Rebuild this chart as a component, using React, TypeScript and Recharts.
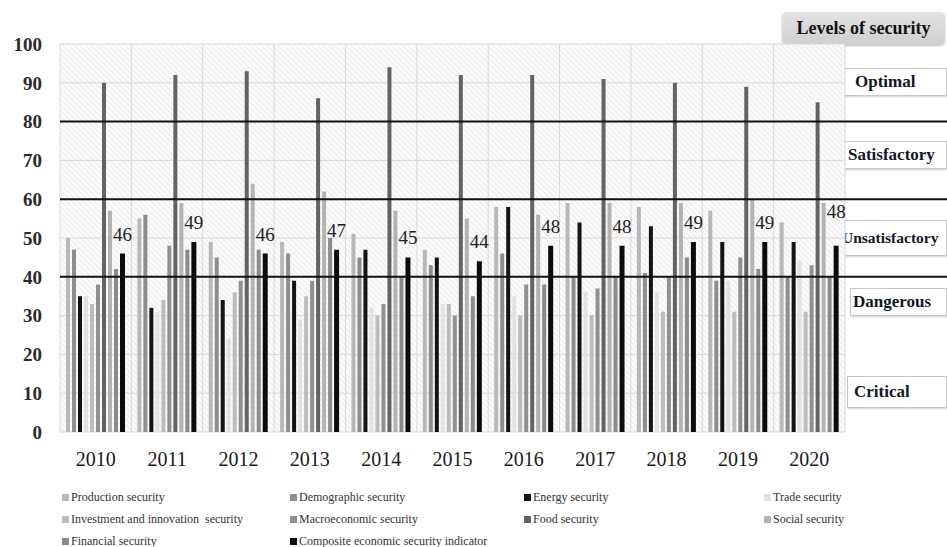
import React from "react";
import {
  Bar,
  BarChart,
  CartesianGrid,
  LabelList,
  ReferenceLine,
  XAxis,
  YAxis,
} from "recharts";

const years = ["2010", "2011", "2012", "2013", "2014", "2015", "2016", "2017", "2018", "2019", "2020"];

const production = [50, 55, 49, 49, 51, 47, 58, 59, 58, 57, 54];
const demographic = [47, 56, 45, 46, 45, 43, 46, 40, 41, 39, 40];
const energy = [35, 32, 34, 39, 47, 45, 58, 54, 53, 49, 49];
const trade = [35, 31, 24, 29, 32, 33, 35, 36, 36, 39, 44];
const investment = [33, 34, 36, 35, 30, 33, 30, 30, 31, 31, 31];
const macro = [38, 48, 39, 39, 33, 30, 38, 37, 40, 45, 43];
const food = [90, 92, 93, 86, 94, 92, 92, 91, 90, 89, 85];
const social = [57, 59, 64, 62, 57, 55, 56, 59, 59, 60, 59];
const financial = [42, 47, 47, 50, 40, 35, 38, 40, 45, 42, 40];
const composite = [46, 49, 46, 47, 45, 44, 48, 48, 49, 49, 48];

const yTicks = [0, 10, 20, 30, 40, 50, 60, 70, 80, 90, 100];
const thresholds = [80, 60, 40];

const levels = [
  { name: "Optimal", left: 838, top: 68, height: 28, pad: 16, size: 17 },
  { name: "Satisfactory", left: 843, top: 141, height: 28, pad: 4, size: 17 },
  { name: "Unsatisfactory", left: 839, top: 220, height: 36, pad: 2, size: 15.5 },
  { name: "Dangerous", left: 850, top: 288, height: 28, pad: 2, size: 17 },
  { name: "Critical", left: 847, top: 376, height: 32, pad: 6, size: 17 },
];

const series = [
  { key: "production", name: "Production security", color: "#b8b8b8", values: production },
  { key: "demographic", name: "Demographic security", color: "#8e8e8e", values: demographic },
  { key: "energy", name: "Energy security", color: "#141414", values: energy },
  { key: "trade", name: "Trade security", color: "#e2e2e2", values: trade },
  { key: "investment", name: "Investment and innovation  security", color: "#bcbcbc", values: investment },
  { key: "macro", name: "Macroeconomic security", color: "#909090", values: macro },
  { key: "food", name: "Food security", color: "#636363", values: food },
  { key: "social", name: "Social security", color: "#b3b3b3", values: social },
  { key: "financial", name: "Financial security", color: "#8a8a8a", values: financial },
  { key: "composite", name: "Composite economic security indicator", color: "#0c0c0c", values: composite },
];

const data = years.map((year, i) => {
  const row: Record<string, string | number> = { year };
  series.forEach((s) => {
    row[s.key] = s.values[i];
  });
  return row;
});

const legendCols = [62, 290, 524, 764];
const legendRows = [497, 519, 541];

const serif = "'Liberation Serif', 'DejaVu Serif', serif";

function ExtendedLine(props: any) {
  const { x1, y1, y2 } = props;
  if (x1 == null || y1 == null) return null;
  return <line x1={x1} y1={y1} x2={947} y2={y2} stroke="#111" strokeWidth={2} />;
}

// last label sits higher in the original so it clears the "Unsatisfactory" box
function CompositeLabel(props: any) {
  const { x, y, width, value, index } = props;
  const lift = index === years.length - 1 ? 28 : 13;
  return (
    <text
      x={x + width / 2}
      y={y - lift}
      textAnchor="middle"
      fontSize={19}
      fill="#222"
      fontFamily={serif}
    >
      {value}
    </text>
  );
}

export default function App() {
  return (
    <div
      style={{
        position: "absolute",
        left: 0,
        top: 0,
        width: 947,
        height: 547,
        background: "#fff",
        fontFamily: serif,
      }}
    >
      <div
        style={{
          position: "absolute",
          left: 782,
          top: 12,
          width: 163,
          height: 33,
          borderRadius: 5,
          background: "linear-gradient(#e2e2e2, #cfcfcf)",
          boxShadow: "0 1px 2px rgba(0,0,0,0.25)",
          fontWeight: "bold",
          fontSize: 18,
          color: "#111",
          display: "flex",
          alignItems: "center",
          justifyContent: "center",
        }}
      >
        Levels of security
      </div>

      {levels.map((l) => (
        <div
          key={l.name}
          style={{
            position: "absolute",
            left: l.left,
            top: l.top,
            width: 947 - l.left,
            height: l.height,
            background: "#fff",
            border: "1px solid #c8c8c8",
            boxShadow: "1px 1px 2px rgba(0,0,0,0.2)",
            boxSizing: "border-box",
            paddingLeft: l.pad,
            fontWeight: "bold",
            fontSize: l.size,
            color: "#101828",
            display: "flex",
            alignItems: "center",
            whiteSpace: "nowrap",
          }}
        >
          {l.name}
        </div>
      ))}

      <div style={{ position: "absolute", left: 0, top: 0 }}>
        <BarChart
          width={947}
          height={480}
          data={data}
          margin={{ top: 44, right: 102, bottom: 8, left: 0 }}
          barGap={2}
          barCategoryGap="8%"
        >
          <defs>
            <pattern id="hatch" width="4" height="4" patternUnits="userSpaceOnUse" patternTransform="rotate(-45)">
              <rect width="4" height="4" fill="#fbfbfb" />
              <line x1="0" y1="0" x2="0" y2="4" stroke="#e6e6e6" strokeWidth="1.5" />
            </pattern>
          </defs>
          <CartesianGrid
            fill="url(#hatch)"
            stroke="#d9d9d9"
            verticalCoordinatesGenerator={({ offset }: any) =>
              years.map((_, i) => offset.left + (offset.width * i) / years.length).concat(offset.left + offset.width)
            }
          />
          <XAxis
            dataKey="year"
            axisLine={false}
            tickLine={false}
            tickSize={0}
            tickMargin={20}
            height={40}
            tick={{ fontSize: 20, fill: "#1a1a1a", fontFamily: serif }}
          />
          <YAxis
            domain={[0, 100]}
            ticks={yTicks}
            axisLine={false}
            tickLine={false}
            tickSize={0}
            tickMargin={18}
            width={60}
            tick={{ fontSize: 19, fill: "#2a2a2a", fontFamily: serif, fontWeight: "bold" }}
          />
          {series.map((s) => (
            <Bar
              key={s.key}
              dataKey={s.key}
              name={s.name}
              fill={s.color}
              barSize={s.key === "composite" ? 5 : 4}
              isAnimationActive={false}
            >
              {s.key === "composite" ? <LabelList dataKey="composite" content={CompositeLabel} /> : null}
            </Bar>
          ))}
          {thresholds.map((t) => (
            <ReferenceLine key={t} y={t} ifOverflow="visible" shape={ExtendedLine} />
          ))}
        </BarChart>
      </div>

      {series.map((s, i) => (
        <div
          key={s.key}
          style={{
            position: "absolute",
            left: legendCols[i % 4],
            top: legendRows[Math.floor(i / 4)] - 7,
            height: 14,
            display: "flex",
            alignItems: "center",
            fontSize: 12,
            color: "#333",
            whiteSpace: "pre",
          }}
        >
          <span style={{ width: 7, height: 7, background: s.color, marginRight: 2, display: "inline-block" }} />
          {s.name}
        </div>
      ))}
    </div>
  );
}
